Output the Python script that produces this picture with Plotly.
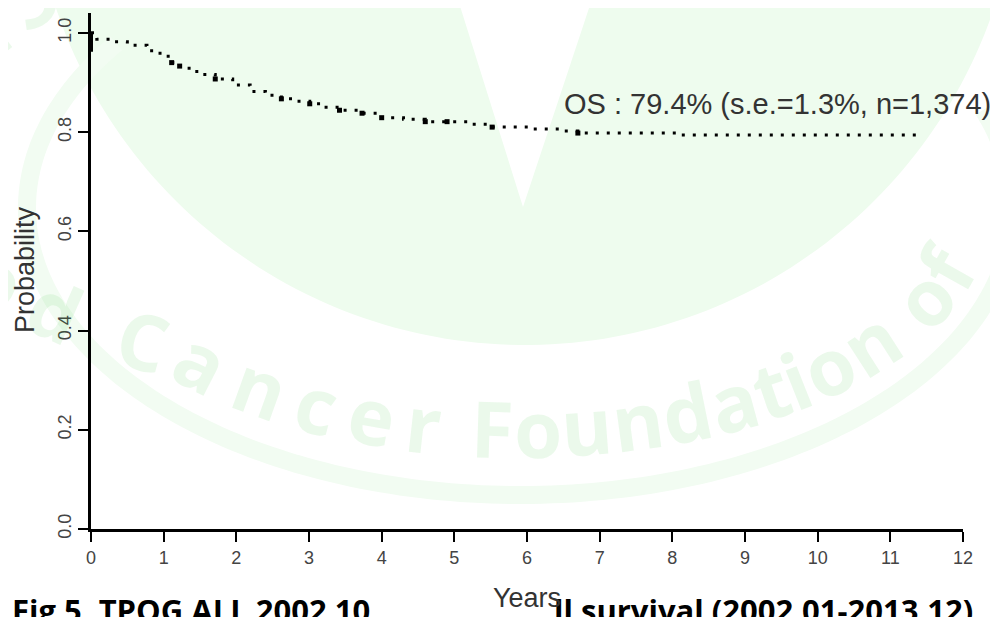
import numpy as np
import plotly.graph_objects as go

# Kaplan-Meier overall survival
years = [0, 0.08, 0.3, 0.5, 0.77, 0.95, 1.11, 1.22, 1.35, 1.5, 1.71, 1.95,
         2.19, 2.4, 2.62, 2.8, 3.01, 3.2, 3.42, 3.73, 4.0, 4.3, 4.6, 4.9,
         5.2, 5.52, 6.08, 6.5, 6.7, 8.1, 11.45]
os_prob = [1.0, 0.987, 0.982, 0.975, 0.964, 0.953, 0.94, 0.933, 0.922, 0.916,
           0.907, 0.895, 0.882, 0.874, 0.867, 0.862, 0.857, 0.85, 0.844,
           0.838, 0.829, 0.826, 0.821, 0.821, 0.816, 0.81, 0.806, 0.802,
           0.798, 0.794, 0.794]
censor_years = [1.11, 1.22, 1.71, 2.62, 3.01, 3.42, 3.73, 4.0, 4.6, 4.9, 5.52, 6.7]
censor_prob = [0.94, 0.933, 0.907, 0.867, 0.857, 0.844, 0.838, 0.829, 0.821,
               0.821, 0.81, 0.798]
start_bar = [1.0, 0.962]

x_ticks = list(range(0, 13))
y_ticks = [0.0, 0.2, 0.4, 0.6, 0.8, 1.0]
y_tick_labels = ["0.0", "0.2", "0.4", "0.6", "0.8", "1.0"]

os_label = "OS : 79.4% (s.e.=1.3%, n=1,374)"
caption_left = "Fig 5. TPOG ALL 2002 10"
caption_right = "ll survival (2002.01-2013.12)"
watermark = "Childhood Cancer Foundation of"

# the page has an 8px body margin, so the figure is laid out 8px in
OFF = 8
W, H = 998, 617
L, T = 91 - OFF, 13 - OFF
PW, PH = 872, 516
R, B = W - L - PW, H - T - PH


# screen pixel -> paper coords
def px(x):
    return (x - OFF - L) / PW


def py(y):
    return (T + PH - (y - OFF)) / PH


fig = go.Figure()

# curve
fig.add_trace(go.Scatter(
    x=years, y=os_prob, mode="lines", line_shape="hv",
    line=dict(color="black", width=3, dash="3px,8px"),
    hoverinfo="skip", showlegend=False
))
fig.add_trace(go.Scatter(
    x=censor_years, y=censor_prob, mode="markers",
    marker=dict(symbol="square", size=5, color="black"),
    hoverinfo="skip", showlegend=False
))
fig.add_trace(go.Scatter(
    x=[0, 0], y=start_bar, mode="lines",
    line=dict(color="black", width=4),
    hoverinfo="skip", showlegend=False
))

# pale green watermark: heart-like blob and outer ring
phi = np.radians(np.linspace(163, 17, 120))
hx = 525 + 495 * np.cos(phi)
hy = -150 + 495 * np.sin(phi)
pts = list(zip(hx, hy)) + [(1000, -10), (595, -10), (523, 207), (455, -10), (40, -10)]
path = "M " + " L ".join(f"{px(a):.4f},{py(b):.4f}" for a, b in pts) + " Z"
shapes = [dict(type="path", path=path, xref="paper", yref="paper",
               fillcolor="#eefcee", line=dict(width=0), layer="below")]

th = np.radians(np.linspace(215, -20, 200))
ring = " L ".join(f"{px(520 + 493 * np.cos(t)):.4f},{py(208 + 287 * np.sin(t)):.4f}"
                  for t in th)
shapes.append(dict(type="path", path="M " + ring, xref="paper", yref="paper",
                   line=dict(color="#f2fcf2", width=18), layer="below"))

annotations = []

# watermark letters along an ellipse that opens out on the left;
# translucent so the axis lines show through
cx, cy, rx, ry = 520, 208, 443, 220
widths = {"C": .64, "h": .66, "i": .3, "l": .3, "d": .66, "o": .62, "a": .6,
          "n": .66, "c": .51, "e": .6, "r": .43, "F": .56, "u": .66, "t": .41,
          "f": .39, " ": .26}
wm_size = 78
tt = np.radians(np.linspace(330, -60, 4000))
k = 1 + 0.45 * np.clip((np.degrees(tt) - 140) / 50, 0, 1)
ex = cx + k * rx * np.cos(tt)
ey = cy + k * ry * np.sin(tt)
s = np.concatenate([[0], np.cumsum(np.hypot(np.diff(ex), np.diff(ey)))])
f_idx = watermark.index("F")
adv = [widths.get(ch, .6) * wm_size * (1.3 if i < f_idx else 0.98)
       for i, ch in enumerate(watermark)]
centers = np.cumsum(adv) - np.array(adv) / 2
s_f = np.interp(-np.radians(93.5), -tt, s)
dxs, dys = np.gradient(ex), np.gradient(ey)
for ch, c in zip(watermark, centers):
    if ch == " ":
        continue
    sc = s_f + (c - centers[f_idx])
    x0 = np.interp(sc, s, ex)
    y0 = np.interp(sc, s, ey)
    ang = np.degrees(np.arctan2(np.interp(sc, s, dys), np.interp(sc, s, dxs)))
    annotations.append(dict(
        text=f"<b>{ch}</b>", x=px(x0), y=py(y0), xref="paper", yref="paper",
        showarrow=False, textangle=float(ang), xanchor="center", yanchor="middle",
        font=dict(family="Open Sans", size=wm_size, color="rgba(30,190,30,0.09)")
    ))

# OS label
annotations.append(dict(
    text=os_label, x=px(562), y=py(104), xref="paper", yref="paper",
    xanchor="left", yanchor="middle", showarrow=False,
    font=dict(family="Arial, Liberation Sans", size=29, color="#333333")
))

# caption, partly cut off at the bottom edge
cap_font = dict(family="Open Sans", size=31, color="black")
annotations.append(dict(
    text=f"<b>{caption_left}</b>", x=px(10), y=py(587), xref="paper", yref="paper",
    xanchor="left", yanchor="top", showarrow=False, font=cap_font
))
annotations.append(dict(
    text=f"<b>{caption_right}</b>", x=px(552), y=py(587), xref="paper", yref="paper",
    xanchor="left", yanchor="top", showarrow=False, font=cap_font
))

# axis titles
annotations.append(dict(
    text="Probability", x=px(25), y=py(270), xref="paper", yref="paper",
    textangle=-90, showarrow=False, xanchor="center", yanchor="middle",
    font=dict(family="Arial, Liberation Sans", size=27, color="#333333")
))
annotations.append(dict(
    text="Years", x=px(527), y=py(598), xref="paper", yref="paper",
    showarrow=False, xanchor="center", yanchor="middle",
    font=dict(family="Arial, Liberation Sans", size=27, color="#333333")
))

axis_style = dict(
    showline=True, linewidth=3, linecolor="black", mirror=False,
    ticks="outside", ticklen=10, tickwidth=2, tickcolor="black",
    showgrid=False, zeroline=False,
    tickfont=dict(family="Arial, Liberation Sans", size=18, color="#444444"),
)

fig.update_layout(
    width=W, height=H,
    margin=dict(l=L, r=R, t=T, b=B),
    paper_bgcolor="white", plot_bgcolor="rgba(0,0,0,0)",
    xaxis=dict(range=[0, 12], tickvals=x_ticks, **axis_style),
    yaxis=dict(range=[0, 1.04], tickvals=y_ticks, ticktext=y_tick_labels,
               tickangle=-90, **axis_style),
    shapes=shapes, annotations=annotations,
    showlegend=False,
)

fig.write_html("out.html")
